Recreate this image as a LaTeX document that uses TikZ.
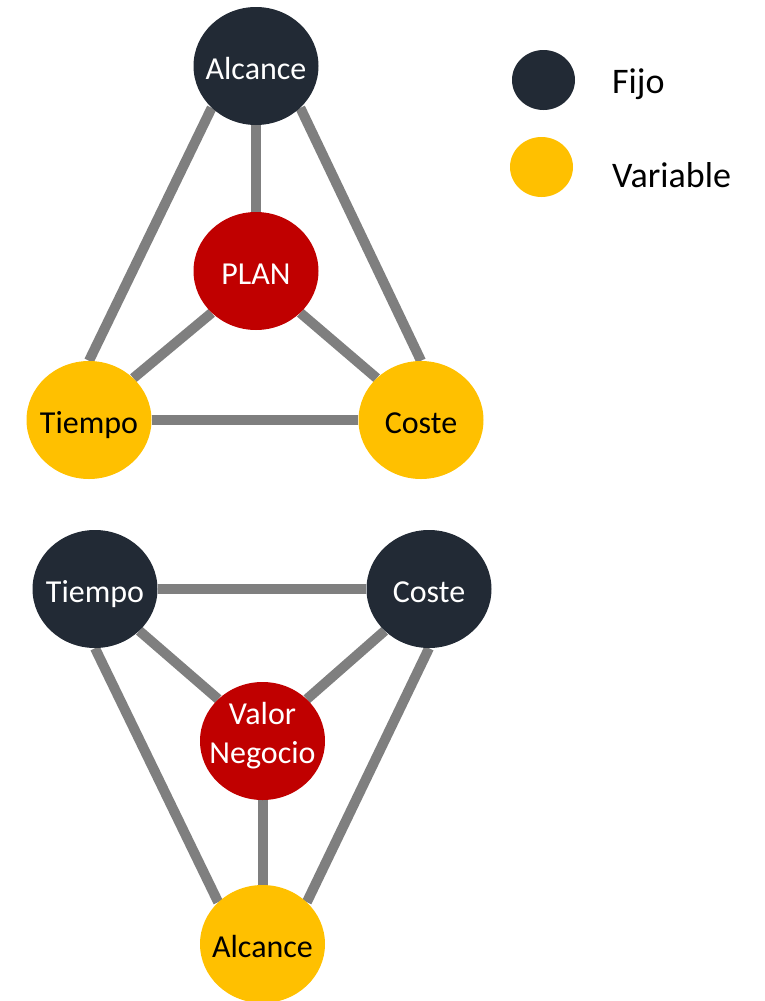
\documentclass[tikz,border=0pt]{standalone}
\usepackage{fontspec}
\setmainfont{Carlito}
\usetikzlibrary{shapes.geometric,backgrounds}
\definecolor{cfijo}{HTML}{222A35}
\definecolor{cvariable}{HTML}{FFC000}
\definecolor{ccentro}{HTML}{C00000}
\definecolor{cenlace}{HTML}{7F7F7F}
\tikzset{
  estado/.style={ellipse,minimum width=125pt,minimum height=118pt,inner xsep=-12pt,inner ysep=0pt,
    font=\fontsize{32}{39}\selectfont},
  linea/.style={text height=28pt,text depth=2pt},
  nfijo/.style={estado,linea,fill=cfijo,text=white},
  nvariable/.style={estado,linea,fill=cvariable,text=black},
  ncentro/.style={estado,fill=ccentro,text=white,align=center},
  enlace/.style={draw=cenlace,line width=10pt},
  marca/.style={ellipse,minimum width=63pt,minimum height=60pt,inner sep=0pt},
  leyenda/.style={anchor=base west,inner sep=0pt,font=\fontsize{36}{43}\selectfont}
}
\begin{document}
\begin{tikzpicture}[x=1pt,y=-1pt]
  \useasboundingbox (0,0) rectangle (765,1001);
  % plan fijo
  \node[nfijo] (A) at (256,66) {Alcance};
  \node[ncentro,linea] (P) at (256,271) {PLAN};
  \node[nvariable] (T) at (89,420) {Tiempo};
  \node[nvariable] (C) at (421,420) {Coste};
  % valor de negocio
  \node[nfijo] (T2) at (95,589) {Tiempo};
  \node[nfijo] (C2) at (429,589) {Coste};
  \node[ncentro,text height=48pt,text depth=4pt] (V) at (262.5,741) {Valor\\Negocio};
  \node[nvariable] (A2) at (262.5,944) {Alcance};
  % leyenda
  \node[marca,fill=cfijo] (LF) at (543.5,80) {};
  \node[marca,fill=cvariable] (LV) at (541.5,167) {};
  \node[leyenda] (LFt) at (612,93) {Fijo};
  \node[leyenda] (LVt) at (612,187) {Variable};
  \begin{scope}[on background layer]
    \draw[enlace] (A.south) -- (P.north);
    \draw[enlace] (A.south west) -- (T.north);
    \draw[enlace] (A.south east) -- (C.north);
    \draw[enlace] (P.south west) -- (T.north east);
    \draw[enlace] (P.south east) -- (C.north west);
    \draw[enlace] (T.east) -- (C.west);
    \draw[enlace] (T2.east) -- (C2.west);
    \draw[enlace] (T2.south east) -- (V.north west);
    \draw[enlace] (C2.south west) -- (V.north east);
    \draw[enlace] (T2.south) -- (A2.north west);
    \draw[enlace] (C2.south) -- (A2.north east);
    \draw[enlace] (V.south) -- (A2.north);
  \end{scope}
\end{tikzpicture}
\end{document}
